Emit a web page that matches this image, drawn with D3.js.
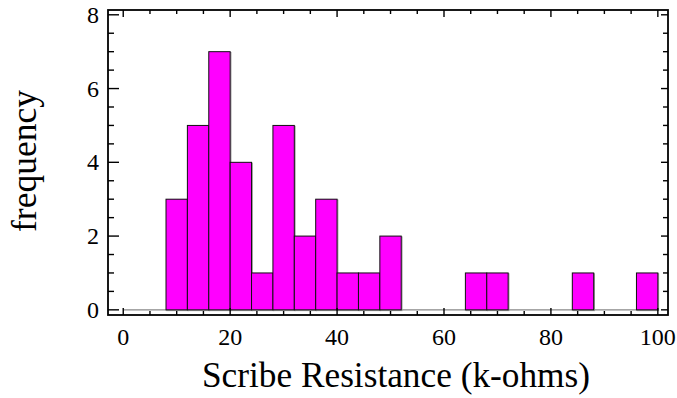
<!DOCTYPE html>
<html>
<head>
<meta charset="utf-8">
<script src="https://cdn.jsdelivr.net/npm/d3@7"></script>
<style>
body{margin:0;background:#fff;}
text{font-family:"Liberation Serif","Times New Roman",serif;fill:#000;}
</style>
</head>
<body>
<div id="plot"></div>
<script>
// histogram bins of width 4 (k-ohms), counts
const binStarts = [0,4,8,12,16,20,24,28,32,36,40,44,48,52,56,60,64,68,72,76,80,84,88,92,96];
const binWidth = 4;
const counts = [0,0,3,5,7,4,1,5,2,3,1,1,2,0,0,0,1,1,0,0,0,1,0,0,1];
const xTicks = [0,20,40,60,80,100];
const yTicks = [0,2,4,6,8];

const width = 677, height = 398;
const margin = {top: 10, right: 9, bottom: 83, left: 108};

let svg = d3.select("#plot").append("svg").attr("width", width).attr("height", height);

let xScale = d3.scaleLinear().domain([-2.85, 101.9]).range([margin.left, width-margin.right]);
let yScale = d3.scaleLinear().domain([-0.14, 8.13]).range([height-margin.bottom, margin.top]);

const x0 = margin.left, x1 = width-margin.right, y0 = height-margin.bottom, y1 = margin.top;

// baseline for empty bins
svg.append("line")
    .attr("x1", xScale(0)).attr("x2", xScale(100))
    .attr("y1", yScale(0)).attr("y2", yScale(0))
    .attr("stroke", "#888").attr("stroke-width", 1.2);

let bins = binStarts.map((s,i)=>({x: s, n: counts[i]})).filter(d=>d.n>0);

// soft shadow edges
svg.append("g").selectAll("rect").data(bins).enter().append("rect")
    .attr("x", d=>xScale(d.x)+0.8)
    .attr("y", d=>yScale(d.n)+0.8)
    .attr("width", d=>xScale(d.x+binWidth)-xScale(d.x))
    .attr("height", d=>yScale(0)-yScale(d.n))
    .attr("fill", "none").attr("stroke", "#999").attr("stroke-width", 1);

svg.append("g").selectAll("rect").data(bins).enter().append("rect")
    .attr("x", d=>xScale(d.x))
    .attr("y", d=>yScale(d.n))
    .attr("width", d=>xScale(d.x+binWidth)-xScale(d.x))
    .attr("height", d=>yScale(0)-yScale(d.n))
    .attr("fill", "#ff00ff").attr("stroke", "#111").attr("stroke-width", 1);

// frame
svg.append("rect").attr("x", x0).attr("y", y1).attr("width", x1-x0).attr("height", y0-y1)
    .attr("fill", "none").attr("stroke", "#000").attr("stroke-width", 1.8);

// ticks on all sides, pointing inward
let xMinor = d3.range(0, 101, 5);
let yMinor = d3.range(0, 8.01, 0.5);
let tg = svg.append("g").attr("stroke", "#000").attr("stroke-width", 1.4);
xMinor.forEach(v=>{
    let len = (v%20===0) ? 7 : 4;
    tg.append("line").attr("x1", xScale(v)).attr("x2", xScale(v)).attr("y1", y0).attr("y2", y0-len);
    tg.append("line").attr("x1", xScale(v)).attr("x2", xScale(v)).attr("y1", y1).attr("y2", y1+len);
});
yMinor.forEach(v=>{
    let major = v%2===0;
    tg.append("line").attr("y1", yScale(v)).attr("y2", yScale(v)).attr("x1", x0).attr("x2", x0+(major?11:6));
    tg.append("line").attr("y1", yScale(v)).attr("y2", yScale(v)).attr("x1", x1).attr("x2", x1-(major?7:5));
});

// tick labels
svg.append("g").selectAll("text").data(xTicks).enter().append("text")
    .attr("x", d=>xScale(d)).attr("y", y0+30)
    .attr("text-anchor", "middle").attr("font-size", 24).text(d=>d);
svg.append("g").selectAll("text").data(yTicks).enter().append("text")
    .attr("x", x0-9).attr("y", d=>yScale(d)+8)
    .attr("text-anchor", "end").attr("font-size", 24).text(d=>d);

// axis titles
svg.append("text").attr("x", 396).attr("y", 387)
    .attr("text-anchor", "middle").attr("font-size", 36)
    .attr("textLength", 388).attr("lengthAdjust", "spacingAndGlyphs")
    .text("Scribe Resistance (k-ohms)");
svg.append("text").attr("transform", "translate(36,161) rotate(-90)")
    .attr("text-anchor", "middle").attr("font-size", 35)
    .attr("textLength", 142).attr("lengthAdjust", "spacingAndGlyphs")
    .text("frequency");
</script>
</body>
</html>
